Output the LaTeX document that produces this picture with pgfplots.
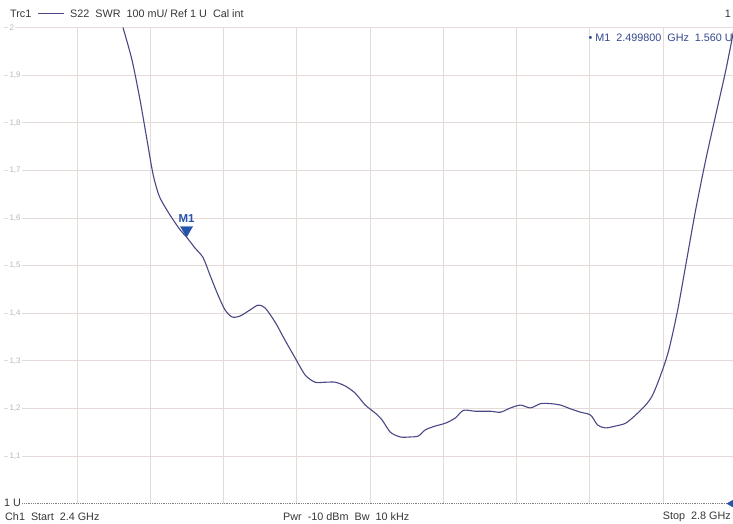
\documentclass[border=0pt]{standalone}
\usepackage{fontspec}
\setmainfont{Liberation Sans}
\usepackage{pgfplots}
\pgfplotsset{compat=1.18}
\definecolor{gridc}{RGB}{228,218,216}
\definecolor{trace}{RGB}{74,72,132}
\definecolor{mkblue}{RGB}{38,84,170}
\definecolor{rdblue}{RGB}{52,72,140}
\definecolor{lblgray}{RGB}{185,185,185}
\definecolor{txt}{RGB}{55,55,55}

\begin{document}
\begin{tikzpicture}
\useasboundingbox (0,0) rectangle (733pt,523pt);
\fill[white] (0,0) rectangle (733pt,523pt);
\begin{axis}[
    at={(3.8pt,19.4pt)}, anchor=south west,
    scale only axis, width=732.5pt, height=476pt,
    xmin=2.4, xmax=2.8, ymin=1, ymax=2,
    clip=false,
    axis line style={draw=none},
    xtick={2.44,2.48,2.52,2.56,2.60,2.64,2.68,2.72,2.76},
    xticklabels={},
    ytick={1.1,1.2,1.3,1.4,1.5,1.6,1.7,1.8,1.9,2.0},
    yticklabels={{1,1},{1,2},{1,3},{1,4},{1,5},{1,6},{1,7},{1,8},{1,9},2},
    grid=major,
    grid style={gridc, line width=1pt},
    major tick length=0pt,
    yticklabel style={anchor=west, xshift=4pt, fill=white, inner sep=1.5pt,
        text=lblgray, font=\fontsize{8}{9}\selectfont},
]
% S22 SWR trace
\addplot[trace, line width=1.1pt, smooth, tension=0.45] coordinates {
    (2.4651,2.000) (2.4700,1.932) (2.4744,1.848) (2.4782,1.764) (2.4815,1.692)
    (2.4850,1.645) (2.4908,1.606) (2.4963,1.575) (2.4998,1.560) (2.5044,1.537)
    (2.5088,1.517) (2.5126,1.480) (2.5170,1.438) (2.5208,1.407) (2.5247,1.392)
    (2.5290,1.394) (2.5345,1.407) (2.5389,1.417) (2.5427,1.411) (2.5482,1.381)
    (2.5536,1.343) (2.5591,1.306) (2.5646,1.270) (2.5700,1.255) (2.5755,1.255)
    (2.5810,1.255) (2.5865,1.247) (2.5919,1.232) (2.5974,1.207) (2.6029,1.190)
    (2.6067,1.175) (2.6111,1.150) (2.6165,1.140) (2.6220,1.140) (2.6264,1.142)
    (2.6302,1.155) (2.6357,1.163) (2.6412,1.169) (2.6466,1.180) (2.6510,1.196)
    (2.6576,1.194) (2.6658,1.194) (2.6712,1.192) (2.6767,1.201) (2.6822,1.207)
    (2.6876,1.201) (2.6931,1.210) (2.6986,1.210) (2.7040,1.207) (2.7095,1.199)
    (2.7150,1.192) (2.7204,1.186) (2.7243,1.165) (2.7286,1.159) (2.7341,1.163)
    (2.7396,1.169) (2.7450,1.186) (2.7505,1.207) (2.7543,1.228) (2.7587,1.270)
    (2.7631,1.322) (2.7680,1.407) (2.7729,1.512) (2.7778,1.617) (2.7833,1.722)
    (2.7888,1.817) (2.7943,1.911) (2.7986,1.995) (2.8000,2.030)
};
% marker M1
\addplot[only marks, mark=triangle*, mark size=7pt, color=mkblue,
    mark options={yshift=7pt, rotate=180}] coordinates {(2.4998,1.560)};
\node[text=mkblue, font=\fontsize{11.5}{12}\selectfont\bfseries]
    at (axis cs:2.4998,1.560) [yshift=18pt] {M1};
% reference level line and arrow
\draw[densely dotted, gray, line width=0.8pt] (axis cs:2.410,1) -- (axis cs:2.8,1);
\addplot[only marks, mark=triangle*, mark size=7.5pt, color=mkblue,
    mark options={rotate=90}] coordinates {(2.7990,1.0)};
\end{axis}
% header
\begin{scope}[font=\fontsize{10.8}{12}\selectfont, text=txt]
\node[anchor=west, inner sep=0pt] at (10pt,509pt) {Trc1};
\draw[trace, line width=1pt] (38pt,509pt) -- (64pt,509pt);
\node[anchor=west, inner sep=0pt] at (70pt,509pt) {S22\ \ SWR\ \ 100 mU/ Ref 1 U\ \ Cal int};
\node[anchor=east, inner sep=0pt] at (731pt,509pt) {1};
\node[anchor=east, inner sep=0pt, text=rdblue] at (733pt,485pt)
    {\textbullet\ M1\ \ 2.499800\ \ GHz\ \ 1.560 U};
% footer
\node[anchor=west, inner sep=0pt] at (5pt,6pt) {Ch1\ \ Start\ \ 2.4 GHz};
\node[anchor=west, inner sep=0pt] at (283pt,6pt) {Pwr\ \ -10 dBm\ \ Bw\ \ 10 kHz};
\node[anchor=east, inner sep=0pt] at (731pt,6pt) {Stop\ \ 2.8 GHz};
\node[anchor=west, inner sep=1pt, fill=white] at (3pt,20pt) {1 U};
\end{scope}
\end{tikzpicture}
\end{document}
